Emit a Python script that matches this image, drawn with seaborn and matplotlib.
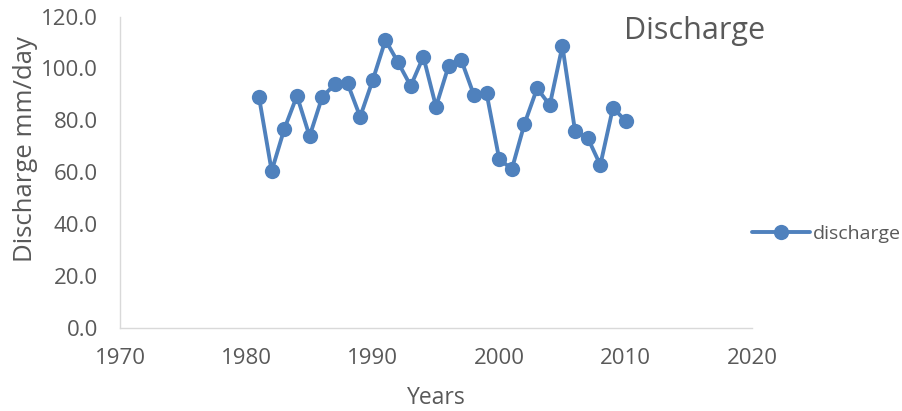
import matplotlib
matplotlib.use("Agg")
import matplotlib.pyplot as plt
import seaborn as sns
import pandas as pd

years = list(range(1981, 2011))
discharge = [88.8, 60.4, 76.6, 89.4, 73.8, 89.0, 93.8, 94.2, 81.3, 95.5,
             110.9, 102.3, 93.2, 104.5, 85.2, 101.0, 103.2, 89.7, 90.4, 65.0,
             61.1, 78.6, 92.3, 85.8, 108.6, 75.8, 73.2, 62.7, 84.8, 79.7]
x_ticks = [1970, 1980, 1990, 2000, 2010, 2020]
y_ticks = [0, 20, 40, 60, 80, 100, 120]

df = pd.DataFrame({"Years": years, "discharge": discharge})

sns.set_theme(style="white")
plt.rcParams["font.family"] = ["Open Sans", "DejaVu Sans"]

text_color = "#595959"
line_color = "#4f81bd"
spine_color = "#d9d9d9"
tick_size = 16

fig = plt.figure(figsize=(9.02, 4.11), dpi=100)
ax = fig.add_axes([120 / 902, 1 - 327.5 / 411, 632 / 902, 311 / 411])

sns.lineplot(data=df, x="Years", y="discharge", ax=ax, color=line_color,
             linewidth=2.8, marker="o", markersize=11, markeredgewidth=0,
             label="discharge")

ax.set_xlim(1970, 2020)
ax.set_ylim(0, 120)
ax.set_xticks(x_ticks)
ax.set_xticklabels([str(v) for v in x_ticks])
ax.set_yticks(y_ticks)
ax.set_yticklabels([f"{v:.1f}" for v in y_ticks])
ax.tick_params(axis="both", length=0, labelsize=tick_size, labelcolor=text_color)
ax.tick_params(axis="y", pad=16)
ax.tick_params(axis="x", pad=15)

for side in ["top", "right"]:
    ax.spines[side].set_visible(False)
for side in ["left", "bottom"]:
    ax.spines[side].set_color(spine_color)
    ax.spines[side].set_linewidth(1.0)

ax.set_xlabel("Years", fontsize=16.5, color=text_color, labelpad=12)
ax.set_ylabel("Discharge mm/day", fontsize=18.5, color=text_color)
ax.yaxis.set_label_coords(-0.13, 0.575)

fig.text(695 / 902, 1 - 31 / 411, "Discharge", fontsize=22, color=text_color,
         ha="center", va="center")

leg = ax.legend(loc="center left", bbox_to_anchor=(1.0, 0.3), frameon=False,
                fontsize=14, handlelength=3.0, handletextpad=0.15,
                borderaxespad=0.0, borderpad=0.0, labelcolor=text_color)

fig.savefig("out.png", dpi=100)
